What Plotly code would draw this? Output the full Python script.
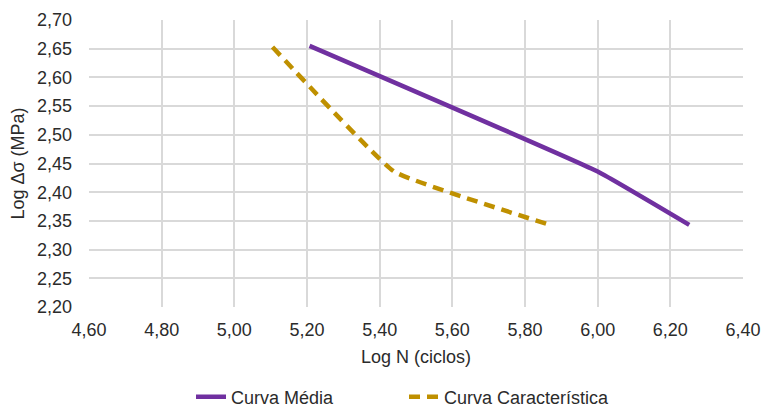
import plotly.graph_objects as go

media_x = [5.207, 6.00, 6.252]
media_y = [2.655, 2.436, 2.343]
carac_x = [5.105, 5.44, 5.869]
carac_y = [2.653, 2.436, 2.343]

x_ticks = [4.6, 4.8, 5.0, 5.2, 5.4, 5.6, 5.8, 6.0, 6.2, 6.4]
y_ticks = [2.20, 2.25, 2.30, 2.35, 2.40, 2.45, 2.50, 2.55, 2.60, 2.65, 2.70]

font = "Liberation Sans, Arial, sans-serif"
tcol = "#2b2b2b"
fs = 18

fig = go.Figure()
fig.add_trace(go.Scatter(x=media_x, y=media_y, mode="lines", name="Curva Média",
                         line=dict(color="#7030A0", width=4.5, shape="spline", smoothing=0.3)))
fig.add_trace(go.Scatter(x=carac_x, y=carac_y, mode="lines", name="Curva Característica",
                         line=dict(color="#BF9000", width=4.5, dash="11px,7px", shape="spline", smoothing=0.3)))

fig.update_layout(
    width=764, height=408,
    margin=dict(l=89, r=21, t=20, b=101),
    paper_bgcolor="white", plot_bgcolor="white",
    separators=",.",
    font=dict(family=font, size=fs, color=tcol),
    xaxis=dict(range=[4.6, 6.4], tickvals=x_ticks, tickformat=".2f", automargin=False,
               showgrid=True, gridcolor="#D9D9D9", gridwidth=1.5, zeroline=False,
               showline=False, ticks="", ticklabelstandoff=10, tickfont=dict(size=fs, color=tcol),
               title=dict(text="Log N (ciclos)", font=dict(size=fs, color=tcol), standoff=11)),
    yaxis=dict(range=[2.2, 2.7], tickvals=y_ticks, tickformat=".2f", automargin=False,
               showgrid=True, gridcolor="#D9D9D9", gridwidth=1.5, zeroline=False,
               showline=False, ticks="", ticklabelstandoff=16, tickfont=dict(size=fs, color=tcol),
               title=dict(text="Log Δσ (MPa)", font=dict(size=fs, color=tcol), standoff=7)),
    legend=dict(orientation="h", x=0.5288, xanchor="center", xref="container",
                y=0.027, yanchor="middle", yref="container",
                font=dict(size=18, color=tcol), entrywidth=168, entrywidthmode="pixels"),
    showlegend=True,
)

fig.write_html("out.html", config={"displayModeBar": False},
               post_script="document.body.style.margin='0';")
